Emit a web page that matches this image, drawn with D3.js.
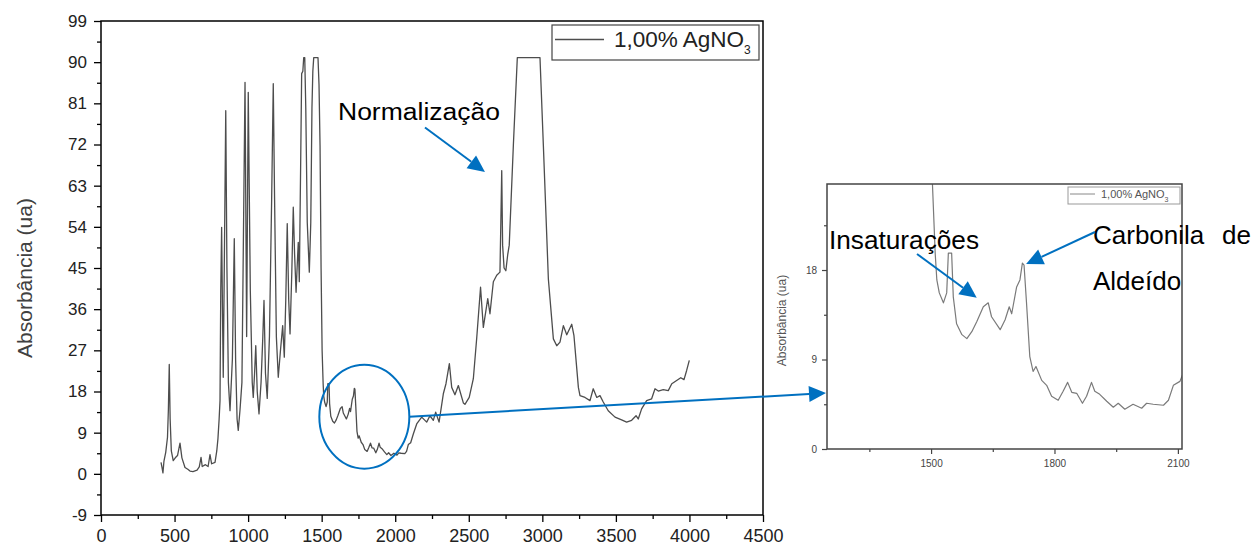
<!DOCTYPE html>
<html>
<head>
<meta charset="utf-8">
<script src="https://cdn.jsdelivr.net/npm/d3@7"></script>
<style>
  body { margin: 0; background: #fff; }
  svg { display: block; }
  text { font-family: "Liberation Sans", Arial, sans-serif; }
</style>
</head>
<body>
<svg id="chart" width="1255" height="547"></svg>
<script>
// FTIR spectrum, 1,00% AgNO3 sample (wavenumber in cm-1, absorbance in a.u.)
const wavenumber = [
  408,414,421,428,440,452,458,464,470,478,491,505,520,537,550,571,590,605,625,653,
  668,680,688,710,728,741,752,775,787,795,803,809,814,820,826,831,838,848,856,866,
  877,893,906,915,925,933,945,958,966,979,990,1001,1015,1028,1035,1044,1052,1062,1074,1088,
  1100,1108,1118,1130,1145,1160,1171,1180,1192,1205,1220,1235,1246,1256,1266,1276,1285,1297,1307,1316,
  1326,1333,1341,1348,1358,1364,1372,1378,1385,1392,1402,1416,1426,1434,1440,1446,1475,1482,1489,1496,
  1503,1510,1514,1520,1530,1538,1542,1550,1554,1562,1575,1587,1599,1611,1627,1639,1647,1668,1680,1690,
  1696,1708,1716,1722,1726,1732,1740,1748,1755,1769,1781,1793,1809,1821,1832,1842,1854,1868,1878,1890,
  1898,1910,1927,1943,1955,1971,1991,2012,2024,2040,2065,2077,2089,2105,
  2123,2146,2180,2214,2236,2259,2275,2298,2327,2345,2368,2384,2406,2429,2463,2474,2503,2531,2554,2580,
  2599,2629,2644,2667,2690,2712,2718,2724,2730,2740,2752,2765,2775,2803,2830,2984,3007,3041,3075,3098,
  3120,3143,3166,3200,3215,3245,3256,3290,3324,3346,3370,3392,3414,3448,3494,3539,3573,3607,3637,3652,
  3675,3709,3743,3766,3788,3822,3856,3880,3913,3941,3963,3981,3999
];
const absorbance = [
  2.5,1.5,0.2,2.8,4.7,8,14,23.9,12,5,2.9,3.5,4,6.7,3.5,1.4,1.0,0.6,0.5,0.8,
  1.5,3.6,1.6,2.0,1.6,4.2,2.2,2.5,5,7.7,12,16,40,53.9,35,21.1,45,79.4,45,20,
  13.8,25,51.4,25,12,9.5,14,20,45,85.6,30,83.4,40,20,16.7,22,28,18,13.1,20,
  30,37.9,22,16.5,30,60,85.3,60,30,21.1,27,32.4,25.5,38,54.7,38,30.6,44,58.3,48,
  39.7,45,50.6,42,70,87.5,88,91,91,80,55,44.1,55,80,88,91,91,85,71.8,45,
  27,19.7,17,15.7,14.7,15.7,19.7,19.7,15.3,12.6,11.5,11.1,11.8,12.8,14.3,14.7,13.3,12.0,13.0,14.3,
  13.6,16.3,17.0,18.7,18.5,14.7,9.3,7.8,8.3,6.9,6.4,5.3,4.9,5.8,6.7,5.7,5.6,4.6,5.3,6.7,
  5.8,5.5,4.8,4.2,4.6,4.0,4.5,4.1,4.6,4.5,4.4,4.9,6.4,6.8,
  8.7,10.9,12.4,11.3,12.7,11.7,13.5,11.3,17.5,19.7,24.1,18.9,17.3,19.3,15.5,15.2,16.7,20.8,29.7,40.8,
  32,38.3,35,42,43.4,44.1,55,66.3,50,45,44.4,48,50,71.8,91,91,71.8,42.6,29.5,28,
  28.8,32.4,30.4,32.7,30.2,18.9,17.1,16.7,16,18.6,16.7,17.1,15.7,13.8,12.4,11.8,11.3,11.7,12.7,12.0,
  14.2,16,16.4,18.6,18.1,18.4,18.2,19.7,20.4,21,20.6,22.6,24.8
];

const xTicks = [0,500,1000,1500,2000,2500,3000,3500,4000,4500];
const xMinorTicks = [250,750,1250,1750,2250,2750,3250,3750,4250];
const yTicks = [-9,0,9,18,27,36,45,54,63,72,81,90,99];
const yMinorTicks = [-4.5,4.5,13.5,22.5,31.5,40.5,49.5,58.5,67.5,76.5,85.5,94.5];

const insetXTicks = [1500,1800,2100];
const insetXMinorTicks = [1350,1650,1950];
const insetYTicks = [0,9,18];
const insetYMinorTicks = [4.5,13.5,22.5];

const seriesName = "1,00% AgNO";
const seriesSub = "3";
const yTitle = "Absorbância (ua)";

const BLUE = "#0070C0";
const plain = d => String(d);   // keep the ASCII hyphen in "-9"
const svg = d3.select("#chart");
const spectrum = wavenumber.map((w, i) => [w, absorbance[i]]);

// ---------- main panel ----------
const x = d3.scaleLinear().domain([0, 4500]).range([101, 763]);
const y = d3.scaleLinear().domain([-9, 99]).range([515, 21]);

const main = svg.append("g");

function styleAxis(g, size) {
  g.select(".domain").remove();
  g.selectAll(".tick line").attr("stroke", "#000").attr("stroke-width", 1.3);
  g.selectAll(".tick text").attr("fill", "#222").style("font-size", size + "px")
    .style("font-family", '"Liberation Sans", Arial, sans-serif');
}

main.append("g").attr("transform", `translate(0,${y(-9)})`)
  .call(d3.axisBottom(x).tickValues(xMinorTicks).tickSize(4).tickFormat(""))
  .call(g => styleAxis(g, 18));
main.append("g").attr("transform", `translate(0,${y(-9)})`)
  .call(d3.axisBottom(x).tickValues(xTicks).tickSize(7).tickPadding(7).tickFormat(plain))
  .call(g => styleAxis(g, 18));
main.append("g").attr("transform", `translate(${x(0)},0)`)
  .call(d3.axisLeft(y).tickValues(yMinorTicks).tickSize(4).tickFormat(""))
  .call(g => styleAxis(g, 17));
main.append("g").attr("transform", `translate(${x(0)},0)`)
  .call(d3.axisLeft(y).tickValues(yTicks).tickSize(7).tickPadding(7).tickFormat(plain))
  .call(g => styleAxis(g, 17));

main.append("rect")
  .attr("x", x(0)).attr("y", y(99))
  .attr("width", x(4500) - x(0)).attr("height", y(-9) - y(99))
  .attr("fill", "none").attr("stroke", "#000").attr("stroke-width", 1.5);

main.append("text")
  .attr("transform", `translate(32,${(y(99) + y(-9)) / 2 + 10}) rotate(-90)`)
  .attr("text-anchor", "middle")
  .attr("fill", "#404040")
  .style("font-size", "21px")
  .text(yTitle);

main.append("path")
  .datum(spectrum)
  .attr("fill", "none")
  .attr("stroke", "#4d4d4d")
  .attr("stroke-width", 1.3)
  .attr("stroke-linejoin", "round")
  .attr("d", d3.line().x(d => x(d[0])).y(d => y(d[1])));

// legend
const lg = main.append("g");
lg.append("rect").attr("x", 552).attr("y", 25).attr("width", 207).attr("height", 35)
  .attr("fill", "#fff").attr("stroke", "#444").attr("stroke-width", 1.2);
lg.append("line").attr("x1", 555).attr("x2", 604).attr("y1", 39.5).attr("y2", 39.5)
  .attr("stroke", "#4d4d4d").attr("stroke-width", 1.3);
const lt = lg.append("text").attr("x", 614).attr("y", 47).attr("fill", "#222").style("font-size", "22.5px");
lt.append("tspan").text(seriesName);
lt.append("tspan").attr("dy", 7).style("font-size", "12px").text(seriesSub);

// arrow helper: shaft plus filled triangular head ending at (x2,y2)
function arrow(g, x1, y1, x2, y2, headLen = 17, headHalf = 8) {
  const a = Math.atan2(y2 - y1, x2 - x1);
  const bx = x2 - headLen * Math.cos(a), by = y2 - headLen * Math.sin(a);
  g.append("line").attr("x1", x1).attr("y1", y1).attr("x2", bx).attr("y2", by)
    .attr("stroke", BLUE).attr("stroke-width", 2);
  const px = -Math.sin(a) * headHalf, py = Math.cos(a) * headHalf;
  g.append("path")
    .attr("d", `M${x2},${y2}L${bx + px},${by + py}L${bx - px},${by - py}Z`)
    .attr("fill", BLUE);
}

// saturation note
main.append("text").attr("x", 338).attr("y", 120)
  .attr("textLength", 162).attr("lengthAdjust", "spacingAndGlyphs")
  .attr("fill", "#000").style("font-size", "23px").text("Normalização");
arrow(main, 425, 127.5, x(2610), y(66), 17, 8);

// region of interest around the carbonyl band
const cx = x(1790), cy = y(12.5);
main.append("ellipse").attr("cx", cx).attr("cy", cy).attr("rx", 45).attr("ry", 52)
  .attr("fill", "none").attr("stroke", BLUE).attr("stroke-width", 2);

// ---------- inset panel (1250–2110 cm-1 detail) ----------
const ix = d3.scaleLinear().domain([1247, 2110]).range([827, 1182]);
const iy = d3.scaleLinear().domain([0, 26.65]).range([449, 184]);
const inset = svg.append("g");

function styleInset(g) {
  g.select(".domain").remove();
  g.selectAll(".tick line").attr("stroke", "#444").attr("stroke-width", 1.2);
  g.selectAll(".tick text").attr("fill", "#444").style("font-size", "10px")
    .style("font-family", '"Liberation Sans", Arial, sans-serif');
}
inset.append("g").attr("transform", `translate(0,${iy(0)})`)
  .call(d3.axisBottom(ix).tickValues(insetXMinorTicks).tickSize(3).tickFormat("")).call(styleInset);
inset.append("g").attr("transform", `translate(0,${iy(0)})`)
  .call(d3.axisBottom(ix).tickValues(insetXTicks).tickSize(5).tickPadding(6).tickFormat(plain)).call(styleInset);
inset.append("g").attr("transform", `translate(${ix(1247)},0)`)
  .call(d3.axisLeft(iy).tickValues(insetYMinorTicks).tickSize(3).tickFormat("")).call(styleInset);
inset.append("g").attr("transform", `translate(${ix(1247)},0)`)
  .call(d3.axisLeft(iy).tickValues(insetYTicks).tickSize(5).tickPadding(5).tickFormat(plain)).call(styleInset);

svg.append("clipPath").attr("id", "insetClip").append("rect")
  .attr("x", ix(1247)).attr("y", iy(26.65))
  .attr("width", ix(2110) - ix(1247)).attr("height", iy(0) - iy(26.65));

inset.append("path")
  .datum(spectrum.filter(d => d[0] >= 1400 && d[0] <= 2130))
  .attr("clip-path", "url(#insetClip)")
  .attr("fill", "none").attr("stroke", "#7a7a7a").attr("stroke-width", 1.2)
  .attr("stroke-linejoin", "round")
  .attr("d", d3.line().x(d => ix(d[0])).y(d => iy(d[1])));

inset.append("rect")
  .attr("x", ix(1247)).attr("y", iy(26.65))
  .attr("width", ix(2110) - ix(1247)).attr("height", iy(0) - iy(26.65))
  .attr("fill", "none").attr("stroke", "#444").attr("stroke-width", 1.5);

inset.append("text")
  .attr("transform", `translate(786,${(iy(0) + iy(26.65)) / 2 + 4}) rotate(-90)`)
  .attr("text-anchor", "middle").attr("fill", "#555").style("font-size", "12px")
  .text(yTitle);

const ilg = inset.append("g");
ilg.append("rect").attr("x", 1068).attr("y", 187).attr("width", 112).attr("height", 17)
  .attr("fill", "#fff").attr("stroke", "#999").attr("stroke-width", 1);
ilg.append("line").attr("x1", 1070).attr("x2", 1095).attr("y1", 194).attr("y2", 194)
  .attr("stroke", "#888").attr("stroke-width", 1);
const ilt = ilg.append("text").attr("x", 1101).attr("y", 198).attr("fill", "#555").style("font-size", "11px");
ilt.append("tspan").text(seriesName);
ilt.append("tspan").attr("dy", 4).style("font-size", "7px").text(seriesSub);

// link from the highlighted region to the inset
arrow(svg, cx + 45, cy, 826, 393, 17, 8);

// inset notes
svg.append("text").attr("x", 829).attr("y", 249).attr("fill", "#000")
  .attr("textLength", 150).attr("lengthAdjust", "spacingAndGlyphs")
  .style("font-size", "25px").text("Insaturações");
arrow(svg, 917, 254, ix(1611), iy(15.2), 17, 8);

svg.append("text").attr("x", 1093).attr("y", 244).attr("fill", "#000")
  .style("font-size", "26px").text("Carbonila");
svg.append("text").attr("x", 1251).attr("y", 244).attr("text-anchor", "end").attr("fill", "#000")
  .style("font-size", "26px").text("de");
svg.append("text").attr("x", 1093).attr("y", 290).attr("fill", "#000")
  .style("font-size", "26px").text("Aldeído");
arrow(svg, 1095, 232, ix(1731), iy(18.6), 17, 8);
</script>
</body>
</html>
